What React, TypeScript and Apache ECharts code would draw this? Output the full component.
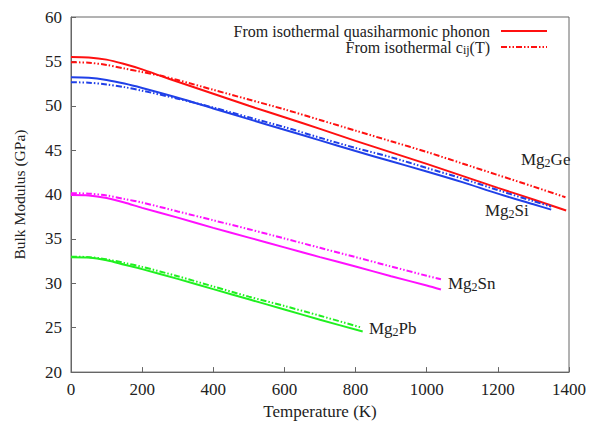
import React, { useEffect, useRef } from "react";
import * as echarts from "echarts";

const FONT = "Liberation Serif";

const xTicks = [0, 200, 400, 600, 800, 1000, 1200, 1400];
const yTicks = [20, 25, 30, 35, 40, 45, 50, 55, 60];

// Mg2Ge
const geT_phonon = [0, 50, 100, 150, 200, 250, 300, 400, 500, 600, 700, 800, 900, 1000, 1100, 1200, 1300, 1392];
const geB_phonon = [55.5, 55.45, 55.2, 54.7, 54.1, 53.4, 52.7, 51.35, 50.0, 48.7, 47.4, 46.05, 44.75, 43.45, 42.1, 40.75, 39.45, 38.2];
const geT_cij = [0, 50, 100, 150, 200, 250, 300, 400, 500, 600, 700, 800, 900, 1000, 1100, 1200, 1300, 1390];
const geB_cij = [54.9, 54.85, 54.6, 54.2, 53.8, 53.4, 52.9, 51.8, 50.7, 49.6, 48.4, 47.2, 46.0, 44.8, 43.5, 42.2, 40.9, 39.7];
// Mg2Si
const siT_phonon = [0, 50, 100, 150, 200, 300, 400, 500, 600, 700, 800, 900, 1000, 1100, 1200, 1300, 1350];
const siB_phonon = [53.2, 53.15, 52.9, 52.5, 52.0, 50.9, 49.7, 48.5, 47.3, 46.1, 44.9, 43.75, 42.6, 41.4, 40.1, 38.9, 38.3];
const siT_cij = [0, 50, 100, 150, 200, 300, 400, 500, 600, 700, 800, 900, 1000, 1100, 1200, 1300, 1350];
const siB_cij = [52.65, 52.6, 52.4, 52.1, 51.7, 50.8, 49.8, 48.7, 47.6, 46.4, 45.25, 44.2, 43.0, 41.8, 40.5, 39.25, 38.65];
// Mg2Sn
const snT_phonon = [0, 50, 100, 150, 200, 300, 400, 500, 600, 700, 800, 900, 1000, 1040];
const snB_phonon = [39.95, 39.9, 39.6, 39.1, 38.5, 37.4, 36.25, 35.15, 34.05, 32.95, 31.9, 30.8, 29.75, 29.3];
const snT_cij = [0, 50, 100, 150, 200, 300, 400, 500, 600, 700, 800, 900, 1000, 1040];
const snB_cij = [40.15, 40.1, 39.9, 39.5, 39.1, 38.1, 37.1, 36.1, 35.05, 34.0, 32.95, 31.9, 30.85, 30.45];
// Mg2Pb
const pbT_phonon = [0, 50, 100, 150, 200, 300, 400, 500, 600, 700, 820];
const pbB_phonon = [32.95, 32.9, 32.6, 32.1, 31.6, 30.5, 29.35, 28.2, 27.05, 25.9, 24.57];
const pbT_cij = [0, 50, 100, 150, 200, 300, 400, 500, 600, 700, 818];
const pbB_cij = [33.0, 32.95, 32.7, 32.3, 31.85, 30.8, 29.65, 28.5, 27.45, 26.35, 25.0];

const legendPhonon = "From isothermal quasiharmonic phonon";
const legendCij = "From isothermal cij(T)";

const compoundLabels = [
  { name: "Mg{s|2}Ge", x: 521, y: 149 },
  { name: "Mg{s|2}Si", x: 485, y: 200 },
  { name: "Mg{s|2}Sn", x: 448, y: 273 },
  { name: "Mg{s|2}Pb", x: 369, y: 318 },
];

const RED = "#ff1010";
const BLUE = "#2040e8";
const MAGENTA = "#ff10ff";
const GREEN = "#20f020";
const DASH = [6, 2, 1.5, 2, 1.5, 2];

function zip(t: number[], b: number[]) {
  return t.map((v, i) => [v, b[i]]);
}

function mk(name: string, t: number[], b: number[], color: string, dashed: boolean) {
  return {
    name,
    type: "line",
    data: zip(t, b),
    symbol: "none",
    smooth: 0.3,
    lineStyle: { color, width: 2, type: dashed ? DASH : "solid" },
    itemStyle: { color },
    z: dashed ? 3 : 2,
  };
}

export default function App() {
  const ref = useRef<HTMLDivElement>(null);
  useEffect(() => {
    if (!ref.current) return;
    const chart = echarts.init(ref.current, null, { renderer: "svg" });
    chart.setOption({
      animation: false,
      backgroundColor: "#fff",
      textStyle: { fontFamily: FONT },
      grid: {
        left: 71,
        right: 15,
        top: 17,
        bottom: 52,
        show: true,
        borderColor: "#666",
        borderWidth: 1,
      },
      legend: {
        orient: "vertical",
        right: 36,
        top: 18,
        align: "right",
        itemWidth: 46,
        itemHeight: 10,
        itemGap: 0,
        data: [legendPhonon, legendCij],
        selectedMode: false,
        itemStyle: { opacity: 0 },
        formatter: (n: string) => (n === legendCij ? "From isothermal c{s|ij}(T)" : n),
        textStyle: {
          fontFamily: FONT,
          fontSize: 16,
          color: "#222",
          padding: [0, 6, 0, 0],
          rich: {
            s: { fontFamily: FONT, fontSize: 12, verticalAlign: "bottom", padding: [6, 0, 0, 0], color: "#222" },
          },
        },
      },
      xAxis: {
        type: "value",
        min: 0,
        max: 1400,
        interval: 200,
        name: "Temperature (K)",
        nameLocation: "middle",
        nameGap: 29,
        nameTextStyle: { fontFamily: FONT, fontSize: 17, color: "#222" },
        axisLine: { show: true, lineStyle: { color: "#666" } },
        axisTick: { show: true, inside: true, length: 5, lineStyle: { color: "#666" } },
        axisLabel: {
          fontFamily: FONT,
          fontSize: 17,
          color: "#222",
          margin: 9,
          formatter: (v: number) => (xTicks.includes(v) ? String(v) : ""),
        },
        splitLine: { show: false },
      },
      yAxis: {
        type: "value",
        min: 20,
        max: 60,
        interval: 5,
        name: "Bulk Modulus (GPa)",
        nameLocation: "middle",
        nameGap: 44,
        nameTextStyle: { fontFamily: FONT, fontSize: 15.5, color: "#222" },
        axisLine: { show: true, lineStyle: { color: "#666" } },
        axisTick: { show: true, inside: true, length: 5, lineStyle: { color: "#666" } },
        axisLabel: {
          fontFamily: FONT,
          fontSize: 17,
          color: "#222",
          margin: 9,
          formatter: (v: number) => (yTicks.includes(v) ? String(v) : ""),
        },
        splitLine: { show: false },
      },
      graphic: compoundLabels.map((l) => ({
        type: "text",
        x: l.x,
        y: l.y,
        style: {
          text: l.name,
          fill: "#222",
          font: `17px "${FONT}"`,
          rich: {
            s: { fontFamily: FONT, fontSize: 12, verticalAlign: "bottom", padding: [8, 0, 0, 0], fill: "#222" },
          },
        },
      })),
      series: [
        mk(legendPhonon, geT_phonon, geB_phonon, RED, false),
        mk(legendCij, geT_cij, geB_cij, RED, true),
        mk("Mg2Si phonon", siT_phonon, siB_phonon, BLUE, false),
        mk("Mg2Si cij", siT_cij, siB_cij, BLUE, true),
        mk("Mg2Sn phonon", snT_phonon, snB_phonon, MAGENTA, false),
        mk("Mg2Sn cij", snT_cij, snB_cij, MAGENTA, true),
        mk("Mg2Pb phonon", pbT_phonon, pbB_phonon, GREEN, false),
        mk("Mg2Pb cij", pbT_cij, pbB_cij, GREEN, true),
      ],
    });
    return () => chart.dispose();
  }, []);
  return <div ref={ref} style={{ position: "absolute", left: 0, top: 0, width: 589, height: 425 }} />;
}
